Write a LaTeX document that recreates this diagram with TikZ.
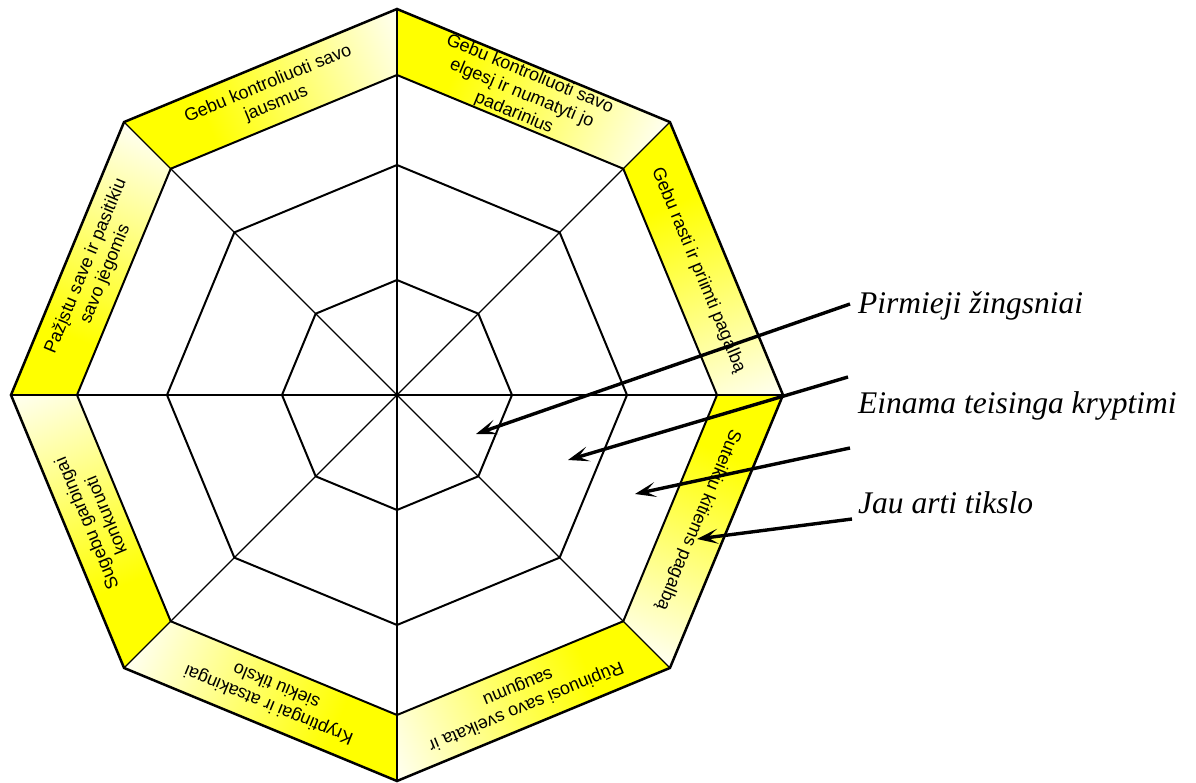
\documentclass[tikz,border=0pt]{standalone}
\usepackage{fontspec}
\setmainfont{Liberation Sans}
\newfontfamily\lblfont{Liberation Serif}
\usetikzlibrary{arrows.meta}
\pgfdeclarehorizontalshading{bandshade}{100bp}{color(0bp)=(yellow); color(25bp)=(yellow); color(38bp)=(yellow); color(75bp)=(yellow!5); color(100bp)=(yellow!5)}
\begin{document}
\begin{tikzpicture}[x=1pt,y=1pt,
  bandtext/.style={font=\fontsize{18}{21}\selectfont, align=center, inner sep=0pt},
  ring/.style={line width=2pt, line join=round},
  spoke/.style={line width=1.4pt},
  outerring/.style={line width=2.5pt, line join=miter},
  pointer/.style={line width=3.4pt, -{Stealth[length=21pt,width=15pt,inset=10pt]}},
  lbl/.style={font=\lblfont\itshape\fontsize{31.5}{36}\selectfont, anchor=base west, inner sep=0pt}]
\useasboundingbox (-397,-387) rectangle (799,395);
% band segments
\foreach \ang/\txt [count=\i] in {
 67.5/{Gebu kontroliuoti savo\\elgesį ir numatyti jo\\padarinius},
 22.5/{Gebu rasti ir priimti pagalbą},
 -22.5/{Suteikiu kitiems pagalbą},
 -67.5/{Rūpinuosi savo sveikata ir\\saugumu},
 -112.5/{Kryptingai ir atsakingai\\siekiu tikslo},
 -157.5/{Sugebu garbingai\\konkuruoti},
 157.5/{Pažįstu save ir pasitikiu\\savo jėgomis},
 112.5/{Gebu kontroliuoti savo\\jausmus}} {
  \begin{scope}[transform canvas={rotate=\ang-90}]
    \shade[shading=bandshade] (-147.7,356.6) -- (147.7,356.6) -- (122.5,295.6) -- (-122.5,295.6) -- cycle;
    \node[bandtext] (band\i) at (0,326) {\txt};
  \end{scope}
}
% rings
\coordinate (O) at (0,0);
\foreach \r in {115,230,320} {
  \draw[ring] (0:\r) \foreach \a in {45,90,...,315} { -- (\a:\r) } -- cycle;
}
% spokes
\foreach \a in {0,45,...,315} {
  \draw[spoke] (O) -- (\a:386);
}
% outer border
\draw[outerring] (0:386) \foreach \a in {45,90,...,315} { -- (\a:386) } -- cycle;
% labels
\node[lbl] (l1) at (461,82) {Pirmieji žingsniai};
\node[lbl] (l2) at (461,-18) {Einama teisinga kryptimi};
\node[lbl] (l3) at (461,-118) {Jau arti tikslo};
% arrows
\coordinate (s1) at (453,91);  \coordinate (t1) at (79,-39);
\coordinate (s2) at (451,18);  \coordinate (t2) at (171,-65);
\coordinate (s3) at (453,-53); \coordinate (t3) at (238,-99);
\coordinate (s4) at (455,-124); \coordinate (t4) at (300,-144);
\draw[pointer] (s1) -- (t1);
\draw[pointer] (s2) -- (t2);
\draw[pointer] (s3) -- (t3);
\draw[pointer] (s4) -- (t4);
\end{tikzpicture}
\end{document}
